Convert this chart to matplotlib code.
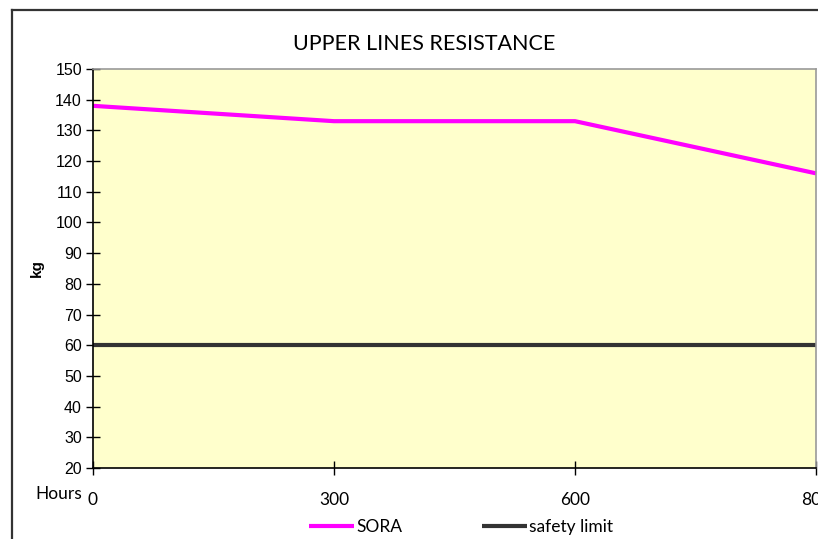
import matplotlib.pyplot as plt
from matplotlib.lines import Line2D

hours = ["0", "300", "600", "800"]
sora = [138, 133, 133, 116]
safety_limit = [60, 60, 60, 60]

W, H = 818, 539
fig = plt.figure(figsize=(W / 100, H / 100), dpi=100)
fig.patch.set_facecolor("white")

# outer chart frame (cropped on the right and bottom)
fig.add_artist(Line2D([12 / W, 12 / W], [0, 1 - 10 / H], color="#333333", lw=1.6))
fig.add_artist(Line2D([12 / W, 1], [1 - 10 / H, 1 - 10 / H], color="#333333", lw=1.6))

ax = fig.add_axes([93 / W, 1 - 468 / H, (816 - 93) / W, (468 - 69) / H])
ax.set_facecolor("#FFFFCC")

x = list(range(len(hours)))
ax.plot(x, sora, color="#FF00FF", lw=3, label="SORA", clip_on=False, solid_capstyle="butt")
ax.plot(x, safety_limit, color="#333333", lw=3, label="safety limit", clip_on=False,
        solid_capstyle="butt")

ax.set_xlim(0, 3)
ax.set_ylim(20, 150)
ax.set_yticks(range(20, 151, 10))
ax.set_xticks(x)
ax.set_xticklabels(hours, family="Lato", fontsize=12.5)
for lab in ax.get_yticklabels():
    lab.set_family("Liberation Sans")
    lab.set_fontsize(11.5)

ax.tick_params(direction="inout", length=10, width=1, color="black")
ax.tick_params(axis="x", pad=12)
ax.tick_params(axis="y", pad=3)

ax.spines["left"].set_color("black")
ax.spines["bottom"].set_color("black")
ax.spines["top"].set_color("#999999")
ax.spines["right"].set_color("#999999")
for s in ax.spines.values():
    s.set_linewidth(1.2)

ax.set_ylabel("kg", family="Liberation Sans", fontweight="bold", fontsize=11, labelpad=8)

# title is centred on the whole (uncropped) chart, not on the plot area
fig.text(424 / W, 1 - 44 / H, "UPPER LINES RESISTANCE", family="Lato", fontsize=15.5,
         ha="center", va="center")

fig.text(82 / W, 1 - 494 / H, "Hours", family="Lato", fontsize=12.5, ha="right", va="center")

leg = fig.legend(loc="center", bbox_to_anchor=(461 / W, 1 - 527 / H), ncol=2, frameon=False,
                 prop={"family": "Lato", "size": 12.5}, handlelength=2.6, handletextpad=0.1,
                 columnspacing=4.6)

fig.savefig("out.png", dpi=100)
